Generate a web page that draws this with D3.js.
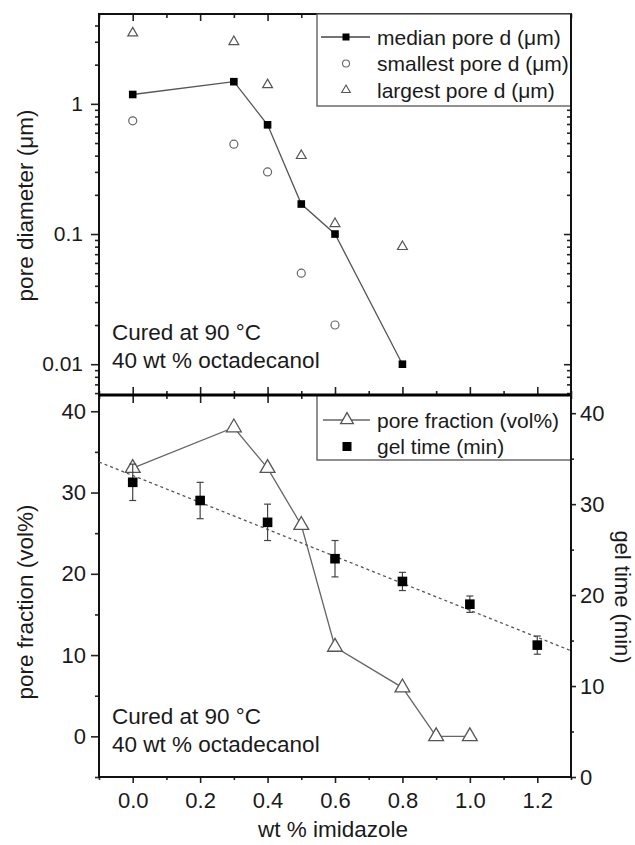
<!DOCTYPE html>
<html><head><meta charset="utf-8">
<script src="https://cdn.jsdelivr.net/npm/d3@7"></script>
<style>
html,body{margin:0;padding:0;background:#fff;}
text{font-family:"Liberation Sans",Arial,sans-serif;fill:#1a1a1a;}
</style></head>
<body>
<svg id="c" width="635" height="845"></svg>
<script>
// ---------- data ----------
const medianX = [0, 0.3, 0.4, 0.5, 0.6, 0.8];
const medianD = [1.18, 1.48, 0.69, 0.17, 0.1, 0.01];
const smallestX = [0, 0.3, 0.4, 0.5, 0.6];
const smallestD = [0.74, 0.49, 0.30, 0.05, 0.02];
const largestX = [0, 0.3, 0.4, 0.5, 0.6, 0.8];
const largestD = [3.5, 3.0, 1.4, 0.4, 0.12, 0.08];
const poreX = [0, 0.3, 0.4, 0.5, 0.6, 0.8, 0.9, 1.0];
const poreFrac = [33, 38, 33, 26, 11, 6, 0, 0];
const gelX = [0, 0.2, 0.4, 0.6, 0.8, 1.0, 1.2];
const gelTime = [32.4, 30.4, 28.0, 24.0, 21.5, 19.0, 14.5];
const gelErr = [2.0, 2.0, 2.0, 2.0, 1.0, 0.9, 1.0];
const xTicks = [0, 0.2, 0.4, 0.6, 0.8, 1.0, 1.2];
const xMinor = [-0.1, 0.1, 0.3, 0.5, 0.7, 0.9, 1.1, 1.3];
const logTicks = [0.01, 0.1, 1];
const poreTicks = [0, 10, 20, 30, 40];
const poreMinor = [-5, 5, 15, 25, 35];
const gelTicks = [0, 10, 20, 30, 40];
const gelMinor = [5, 15, 25, 35];
const topLegend = ["median pore d (\u03bcm)", "smallest pore d (\u03bcm)", "largest pore d (\u03bcm)"];
const botLegend = ["pore fraction (vol%)", "gel time (min)"];
const noteLines = ["Cured at 90 \u00b0C", "40 wt % octadecanol"];

// ---------- layout ----------
const L = 99, R = 571, T = 14, M = 395, B = 777;
const svg = d3.select("#c");
const x = d3.scaleLinear().domain([-0.1, 1.3]).range([L, R]);
const yLog = d3.scaleLog().domain([0.0058, 4.9]).range([M, T]);
const yPore = d3.scaleLinear().domain([-5, 42]).range([B, M]);
const yGel = d3.scaleLinear().domain([0, 42]).range([B, M]);

const minorLog = [];
[0.001, 0.01, 0.1, 1].forEach(d => { for (let k = 2; k <= 9; k++) { const v = d * k; if (v >= 0.0058 && v <= 4.9) minorLog.push(v); } });

function clean(g) { g.select(".domain").remove(); g.selectAll("line").attr("stroke", "#222").attr("stroke-width", 1.6); g.selectAll("text").attr("font-size", 21).attr("fill", "#2a2a2a").attr("font-family", "Liberation Sans, Arial, sans-serif"); return g; }

// ---------- top panel axes ----------
clean(svg.append("g").attr("transform", `translate(${L},0)`).call(d3.axisLeft(yLog).tickValues(logTicks).tickFormat(d => d === 1 ? "1" : String(d)).tickSize(8).tickPadding(8)));
clean(svg.append("g").attr("transform", `translate(${L},0)`).call(d3.axisLeft(yLog).tickValues(minorLog).tickFormat("").tickSize(4)));
clean(svg.append("g").attr("transform", `translate(${R},0)`).call(d3.axisRight(yLog).tickValues(logTicks).tickFormat("").tickSize(-7)));
clean(svg.append("g").attr("transform", `translate(${R},0)`).call(d3.axisRight(yLog).tickValues(minorLog).tickFormat("").tickSize(-4)));
clean(svg.append("g").attr("transform", `translate(0,${T})`).call(d3.axisTop(x).tickValues(xTicks).tickFormat("").tickSize(-7)));
clean(svg.append("g").attr("transform", `translate(0,${T})`).call(d3.axisTop(x).tickValues(xMinor).tickFormat("").tickSize(-4)));
// shared border: crossing ticks
clean(svg.append("g").attr("transform", `translate(0,${M})`).call(d3.axisTop(x).tickValues(xTicks).tickFormat("").tickSize(8)));
clean(svg.append("g").attr("transform", `translate(0,${M})`).call(d3.axisBottom(x).tickValues(xTicks).tickFormat("").tickSize(8)));
clean(svg.append("g").attr("transform", `translate(0,${M})`).call(d3.axisTop(x).tickValues(xMinor).tickFormat("").tickSize(4)));
clean(svg.append("g").attr("transform", `translate(0,${M})`).call(d3.axisBottom(x).tickValues(xMinor).tickFormat("").tickSize(4)));

// ---------- bottom panel axes ----------
const bx = clean(svg.append("g").attr("transform", `translate(0,${B})`).call(d3.axisBottom(x).tickValues(xTicks).tickFormat(d3.format(".1f")).tickSize(6).tickPadding(9)));
bx.selectAll("text").attr("font-size", 22);
clean(svg.append("g").attr("transform", `translate(0,${B})`).call(d3.axisBottom(x).tickValues(xMinor).tickFormat("").tickSize(3)));
const bl = clean(svg.append("g").attr("transform", `translate(${L},0)`).call(d3.axisLeft(yPore).tickValues(poreTicks).tickSize(8).tickPadding(5)));
bl.selectAll("text").attr("font-size", 22);
clean(svg.append("g").attr("transform", `translate(${L},0)`).call(d3.axisLeft(yPore).tickValues(poreMinor).tickFormat("").tickSize(4)));
const br = clean(svg.append("g").attr("transform", `translate(${R},0)`).call(d3.axisRight(yGel).tickValues(gelTicks).tickSize(5).tickPadding(4)));
br.selectAll("text").attr("font-size", 22);
clean(svg.append("g").attr("transform", `translate(${R},0)`).call(d3.axisRight(yGel).tickValues(gelMinor).tickFormat("").tickSize(3)));

// frames
svg.append("rect").attr("x", L).attr("y", T).attr("width", R - L).attr("height", M - T).attr("fill", "none").attr("stroke", "#111").attr("stroke-width", 2);
svg.append("rect").attr("x", L).attr("y", M).attr("width", R - L).attr("height", B - M).attr("fill", "none").attr("stroke", "#111").attr("stroke-width", 2);

// ---------- top panel data ----------
const medianPts = medianX.map((v, i) => [v, medianD[i]]);
svg.append("path").attr("d", d3.line().x(d => x(d[0])).y(d => yLog(d[1]))(medianPts))
  .attr("fill", "none").attr("stroke", "#555").attr("stroke-width", 1.3);
const triSmall = d3.symbol().type(d3.symbolTriangle).size(42);
const triBig = d3.symbol().type(d3.symbolTriangle).size(95);
svg.append("g").selectAll("path").data(largestX.map((v, i) => [v, largestD[i]])).join("path")
  .attr("d", triSmall).attr("transform", d => `translate(${x(d[0])},${yLog(d[1])})`)
  .attr("fill", "none").attr("stroke", "#555").attr("stroke-width", 1.2);
svg.append("g").selectAll("circle").data(smallestX.map((v, i) => [v, smallestD[i]])).join("circle")
  .attr("cx", d => x(d[0])).attr("cy", d => yLog(d[1])).attr("r", 4)
  .attr("fill", "none").attr("stroke", "#666").attr("stroke-width", 1.2);
svg.append("g").selectAll("rect").data(medianPts).join("rect")
  .attr("x", d => x(d[0]) - 3.8).attr("y", d => yLog(d[1]) - 3.8).attr("width", 7.6).attr("height", 7.6).attr("fill", "#000");

// ---------- bottom panel data ----------
// linear fit of gel time
const mx = d3.mean(gelX), my = d3.mean(gelTime);
const slope = d3.sum(gelX, (v, i) => (v - mx) * (gelTime[i] - my)) / d3.sum(gelX, v => (v - mx) * (v - mx));
const icpt = my - slope * mx;
const fitX = x.domain();
svg.append("path").attr("d", d3.line().x(d => x(d)).y(d => yGel(icpt + slope * d))(fitX))
  .attr("fill", "none").attr("stroke", "#555").attr("stroke-width", 1.3).attr("stroke-dasharray", "3,3");

const porePts = poreX.map((v, i) => [v, poreFrac[i]]);
svg.append("path").attr("d", d3.line().x(d => x(d[0])).y(d => yPore(d[1]))(porePts))
  .attr("fill", "none").attr("stroke", "#666").attr("stroke-width", 1.3);
svg.append("g").selectAll("path").data(porePts).join("path")
  .attr("d", triBig).attr("transform", d => `translate(${x(d[0])},${yPore(d[1])})`)
  .attr("fill", "#fff").attr("stroke", "#555").attr("stroke-width", 1.3);

const gelPts = gelX.map((v, i) => ({ x: v, y: gelTime[i], e: gelErr[i] }));
const eb = svg.append("g").attr("stroke", "#444").attr("stroke-width", 1.2);
gelPts.forEach(d => {
  const cx = x(d.x);
  eb.append("line").attr("x1", cx).attr("x2", cx).attr("y1", yGel(d.y + d.e)).attr("y2", yGel(d.y - d.e));
  eb.append("line").attr("x1", cx - 3.5).attr("x2", cx + 3.5).attr("y1", yGel(d.y + d.e)).attr("y2", yGel(d.y + d.e));
  eb.append("line").attr("x1", cx - 3.5).attr("x2", cx + 3.5).attr("y1", yGel(d.y - d.e)).attr("y2", yGel(d.y - d.e));
});
svg.append("g").selectAll("rect").data(gelPts).join("rect")
  .attr("x", d => x(d.x) - 4.8).attr("y", d => yGel(d.y) - 4.8).attr("width", 9.6).attr("height", 9.6).attr("fill", "#000");

// ---------- legends ----------
const lg1 = svg.append("g");
lg1.append("rect").attr("x", 317).attr("y", T).attr("width", R - 317).attr("height", 106 - T)
  .attr("fill", "#fff").attr("stroke", "#555").attr("stroke-width", 1.3);
const rows1 = [37, 63.5, 90];
lg1.append("line").attr("x1", 321).attr("x2", 370).attr("y1", rows1[0]).attr("y2", rows1[0]).attr("stroke", "#444").attr("stroke-width", 1.3);
lg1.append("rect").attr("x", 346 - 3.5).attr("y", rows1[0] - 3.5).attr("width", 7).attr("height", 7).attr("fill", "#000");
lg1.append("circle").attr("cx", 346).attr("cy", rows1[1]).attr("r", 3.5).attr("fill", "#fff").attr("stroke", "#666").attr("stroke-width", 1.1);
lg1.append("path").attr("d", d3.symbol().type(d3.symbolTriangle).size(32)).attr("transform", `translate(346,${rows1[2]})`).attr("fill", "#fff").attr("stroke", "#555").attr("stroke-width", 1.1);
lg1.selectAll("text").data(topLegend).join("text").attr("x", 377).attr("y", (d, i) => rows1[i] + 7.5)
  .attr("font-size", 21).text(d => d);

const lg2 = svg.append("g");
lg2.append("rect").attr("x", 317).attr("y", M).attr("width", R - 317).attr("height", 460 - M)
  .attr("fill", "#fff").attr("stroke", "#555").attr("stroke-width", 1.3);
const rows2 = [420, 446.5];
lg2.append("line").attr("x1", 323).attr("x2", 370).attr("y1", rows2[0]).attr("y2", rows2[0]).attr("stroke", "#666").attr("stroke-width", 1.3);
lg2.append("path").attr("d", d3.symbol().type(d3.symbolTriangle).size(70)).attr("transform", `translate(347,${rows2[0]})`).attr("fill", "#fff").attr("stroke", "#555").attr("stroke-width", 1.3);
lg2.append("rect").attr("x", 347 - 4.5).attr("y", rows2[1] - 4.5).attr("width", 9).attr("height", 9).attr("fill", "#000");
lg2.selectAll("text").data(botLegend).join("text").attr("x", 377).attr("y", (d, i) => rows2[i] + 7.5)
  .attr("font-size", 21).text(d => d);
// shared border drawn over legend boxes
svg.append("line").attr("x1", L).attr("x2", R).attr("y1", M).attr("y2", M).attr("stroke", "#000").attr("stroke-width", 3);
svg.append("line").attr("x1", R).attr("x2", R).attr("y1", T).attr("y2", B).attr("stroke", "#111").attr("stroke-width", 2);

// ---------- annotations ----------
[[340, 368], [724, 752]].forEach(ys => {
  noteLines.forEach((t, i) => svg.append("text").attr("x", 112).attr("y", ys[i]).attr("font-size", 22.5).text(t));
});

// ---------- axis titles ----------
svg.append("text").attr("transform", `translate(33,${(T + M) / 2 + 1}) rotate(-90)`).attr("text-anchor", "middle").attr("font-size", 22.5).text("pore diameter (\u03bcm)");
svg.append("text").attr("transform", `translate(33,${(M + B) / 2 + 16}) rotate(-90)`).attr("text-anchor", "middle").attr("font-size", 22.5).text("pore fraction (vol%)");
svg.append("text").attr("transform", `translate(615,${(M + B) / 2 + 11}) rotate(90)`).attr("text-anchor", "middle").attr("font-size", 22).text("gel time (min)");
svg.append("text").attr("x", (L + R) / 2 - 2).attr("y", 837).attr("text-anchor", "middle").attr("font-size", 22.5).text("wt % imidazole");
</script>
</body></html>
